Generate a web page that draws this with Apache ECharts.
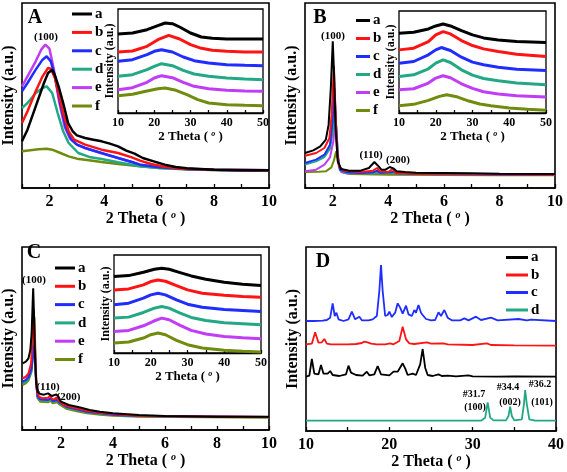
<!DOCTYPE html>
<html><head><meta charset="utf-8">
<script src="https://cdn.jsdelivr.net/npm/echarts@6/dist/echarts.min.js"></script>
<style>html,body{margin:0;padding:0;background:#fff}#c{width:567px;height:472px}</style>
</head><body><div id="c"></div>
<script>
const names6 = ['a','b','c','d','e','f'];
const names4 = ['a','b','c','d'];
const colors = {a:'#000000', b:'#ff1414', c:'#1f2dff', d:'#22a884', e:'#c03cf5', f:'#6f8c0e'};

// Panel A (main)
const A_a = [[1,140],[1.2,175],[1.5,245],[1.8,315],[1.95,345],[2.1,355],[2.2,338],[2.35,300],[2.5,255],[2.68,195],[2.85,170],[3.0,158],[3.3,150],[3.6,145],[3.9,140],[4.2,133],[4.5,125],[4.8,112],[5.1,103],[5.4,90],[5.8,80],[6.2,70],[6.6,63],[7,59],[7.5,57],[8,55],[9,53],[10,53]];
const A_b = [[1,195],[1.2,230],[1.5,290],[1.75,335],[1.95,360],[2.05,358],[2.2,330],[2.35,280],[2.5,225],[2.7,170],[2.9,145],[3.3,130],[3.9,115],[4.5,105],[5.0,92],[5.3,82],[5.7,72],[6.2,64],[6.8,58],[7.5,56],[8,55],[10,53]];
const A_c = [[1,290],[1.2,315],[1.5,355],[1.75,385],[1.9,395],[2.05,380],[2.2,335],[2.4,250],[2.6,180],[2.8,145],[3.0,130],[3.3,120],[3.9,105],[4.5,90],[5.0,78],[5.3,70],[6,62],[7,57],[8,55],[10,53]];
const A_d = [[1,240],[1.2,255],[1.5,285],[1.75,300],[1.9,305],[2.1,285],[2.3,225],[2.5,170],[2.7,135],[3.05,105],[3.5,92],[3.9,87],[4.5,77],[5.3,65],[6,60],[7,56],[8,54],[10,52]];
const A_e = [[1,305],[1.2,335],[1.5,380],[1.7,415],[1.85,430],[2.0,418],[2.15,360],[2.35,260],[2.55,185],[2.75,148],[3.0,130],[3.3,120],[3.9,104],[4.5,90],[5.0,78],[5.3,70],[6,62],[7,57],[8,55],[10,53]];
const A_f = [[1,110],[1.3,113],[1.6,116],[1.9,118],[2.1,115],[2.4,105],[2.7,95],[3.0,88],[3.3,85],[3.9,78],[4.5,72],[5.3,65],[6,60],[7,56],[8,54],[10,52]];

// Panel A inset
const AI_a = [[10,237],[14,240],[18,250],[21,262],[23,270],[25,268],[27,258],[30,240],[33,228],[36,224],[40,222],[45,222],[50,222]];
const AI_b = [[10,183],[14,186],[18,200],[21,220],[24,233],[27,222],[30,205],[33,194],[36,188],[40,185],[45,183],[50,183]];
const AI_c = [[10,155],[14,160],[18,175],[20,185],[22,190],[25,183],[28,168],[31,157],[35,150],[40,145],[45,143],[50,142]];
const AI_d = [[10,110],[14,115],[18,130],[20,140],[22,148],[25,142],[28,128],[31,117],[35,110],[40,105],[45,102],[50,100]];
const AI_e = [[10,70],[14,76],[18,92],[20,105],[22,112],[25,106],[28,92],[31,80],[35,73],[40,68],[45,66],[50,65]];
const AI_f = [[10,52],[14,56],[18,66],[21,73],[23,75],[26,68],[29,55],[32,40],[35,30],[40,25],[45,23],[50,22]];

// Panel B (main)
const B_a = [[1,105],[1.3,113],[1.55,125],[1.75,145],[1.85,190],[1.93,300],[2.0,440],[2.05,330],[2.1,180],[2.18,80],[2.3,57],[2.6,52],[3.0,52],[3.3,60],[3.5,78],[3.56,83],[3.65,65],[3.75,55],[3.9,55],[4.05,63],[4.12,67],[4.2,58],[4.3,50],[4.6,48],[5,46],[6,45],[7,44],[8,43],[10,42]];
const B_b = [[1,97],[1.4,105],[1.7,120],[1.88,150],[1.96,220],[2.04,365],[2.09,250],[2.15,120],[2.22,65],[2.4,52],[3.0,48],[3.45,52],[3.6,60],[3.7,50],[4.0,48],[4.15,57],[4.25,46],[4.6,44],[5,43],[7,42],[10,40]];
const B_c = [[1,75],[1.4,85],[1.7,100],[1.9,130],[1.99,200],[2.06,300],[2.11,200],[2.17,100],[2.25,55],[2.5,47],[3.0,45],[3.45,47],[3.6,52],[3.7,46],[4.1,47],[4.2,50],[4.3,44],[5,42],[10,40]];
const B_d = [[1,70],[1.4,80],[1.7,93],[1.9,118],[2.0,170],[2.08,255],[2.13,170],[2.19,90],[2.27,52],[2.5,45],[3.5,44],[3.6,47],[3.7,44],[4.2,46],[5,42],[10,40]];
const B_e = [[1,50],[1.4,55],[1.7,70],[1.9,92],[2.02,140],[2.1,210],[2.15,150],[2.21,75],[2.3,48],[2.5,44],[3.6,45],[4.2,45],[5,42],[10,40]];
const B_f = [[1,48],[1.5,49],[1.75,50],[1.95,62],[2.05,85],[2.12,110],[2.17,88],[2.25,60],[2.35,47],[2.6,42],[4,40],[6,39],[8,38],[10,38]];

// Panel B inset
const BI_a = [[10,240],[14,243],[18,253],[20,262],[22,268],[24,262],[27,248],[30,235],[33,226],[37,220],[42,215],[50,212]];
const BI_b = [[10,190],[14,195],[18,215],[20,235],[22,245],[24,238],[27,218],[30,203],[33,193],[37,185],[42,177],[50,170]];
const BI_c = [[10,150],[14,155],[18,175],[20,190],[21.5,197],[24,188],[27,168],[30,153],[33,145],[37,138],[42,132],[50,128]];
const BI_d = [[10,110],[14,115],[18,133],[20,150],[22,160],[24,152],[27,130],[30,114],[33,104],[37,97],[42,90],[50,85]];
const BI_e = [[10,70],[14,73],[18,90],[20,105],[22,112],[24,106],[27,88],[30,74],[33,64],[37,57],[42,52],[50,48]];
const BI_f = [[10,22],[14,26],[18,38],[21,50],[23,55],[26,48],[29,36],[32,27],[35,22],[40,15],[45,11],[50,8]];

// Panel C (main)
const C_a = [[0.52,200],[0.65,205],[0.75,215],[0.82,240],[0.87,290],[0.91,380],[0.93,425],[0.96,350],[1.0,220],[1.05,140],[1.1,115],[1.2,108],[1.35,106],[1.5,110],[1.57,113],[1.65,102],[1.72,100],[1.82,107],[1.9,100],[2.0,85],[2.3,75],[2.7,68],[3.1,60],[3.5,55],[4.0,50],[5,45],[6,42],[8,40],[10,40]];
const C_b = [[0.52,155],[0.65,160],[0.75,170],[0.85,200],[0.91,280],[0.95,360],[0.99,280],[1.03,170],[1.08,115],[1.15,100],[1.3,95],[1.5,97],[1.58,103],[1.66,92],[1.75,93],[1.83,98],[1.92,88],[2.1,75],[2.5,67],[3,58],[3.5,52],[4,48],[5,43],[6,41],[10,39]];
const C_c = [[0.52,145],[0.65,150],[0.75,158],[0.87,185],[0.93,230],[0.97,255],[1.0,210],[1.04,140],[1.1,100],[1.2,92],[1.5,90],[1.6,95],[1.68,87],[1.85,90],[1.95,82],[2.2,70],[2.6,62],[3,55],[3.5,50],[4,46],[5,42],[10,39]];
const C_d = [[0.52,140],[0.65,145],[0.75,152],[0.87,180],[0.93,240],[0.97,285],[1.0,230],[1.04,150],[1.1,98],[1.2,90],[1.5,88],[1.6,92],[1.68,85],[1.85,88],[1.95,80],[2.2,68],[2.6,60],[3,54],[3.5,49],[4,45],[5,41],[10,38]];
const C_e = [[0.52,155],[0.65,158],[0.75,165],[0.87,195],[0.93,260],[0.97,305],[1.0,240],[1.04,150],[1.1,100],[1.2,92],[1.5,90],[1.6,96],[1.68,87],[1.85,90],[1.95,82],[2.2,70],[2.6,61],[3,55],[3.5,50],[4,46],[5,42],[10,39]];
const C_f = [[0.52,135],[0.65,140],[0.75,148],[0.87,175],[0.93,260],[0.98,340],[1.01,250],[1.05,150],[1.1,95],[1.2,85],[1.5,83],[1.6,88],[1.68,80],[1.85,83],[1.95,76],[2.2,64],[2.6,56],[3,50],[3.5,46],[4,43],[5,40],[10,37]];

// Panel C inset
const CI_a = [[10,230],[14,233],[18,243],[21,252],[23,255],[25,252],[28,242],[31,232],[35,222],[40,213],[45,207],[50,203]];
const CI_b = [[10,190],[14,193],[18,205],[20,215],[22,220],[24,216],[27,203],[30,190],[34,180],[40,174],[45,170],[50,168]];
const CI_c = [[10,145],[14,150],[18,165],[20,175],[22,180],[24,175],[27,160],[30,147],[34,138],[40,131],[45,128],[50,125]];
const CI_d = [[10,105],[14,108],[18,122],[21,135],[23,140],[25,135],[28,120],[31,107],[35,98],[40,91],[45,88],[50,85]];
const CI_e = [[10,65],[14,68],[18,82],[21,97],[23,105],[25,100],[28,83],[31,68],[35,57],[40,50],[45,46],[50,43]];
const CI_f = [[10,30],[14,33],[18,45],[20,55],[22,60],[24,55],[27,38],[30,25],[34,15],[40,8],[45,5],[50,3]];

// Panel D
const D_a = [[10,163],[10.4,166],[10.7,216],[11.0,172],[11.5,170],[11.8,198],[12.1,172],[12.6,172],[12.9,180],[13.2,168],[14,165],[14.8,170],[15.1,196],[15.4,175],[15.6,178],[16,168],[16.8,166],[17.3,178],[17.6,167],[18.2,170],[18.6,195],[19.0,170],[20.0,167],[20.5,178],[20.7,183],[21.0,178],[21.6,203],[21.9,188],[22.2,168],[22.8,172],[23.2,168],[23.7,200],[24.0,246],[24.3,190],[24.6,168],[25.2,165],[25.9,170],[26.3,165],[27,166],[28,164],[29.5,167],[30,164],[33,163],[35,164],[40,163]];
const D_b = [[10,260],[10.7,262],[11.1,296],[11.5,265],[11.9,266],[12.2,276],[12.5,262],[13,260],[14,260],[15,260],[16,261],[16.7,264],[17.0,268],[17.4,266],[17.8,262],[18.5,260],[19.5,260],[20.1,263],[20.5,260],[21.2,270],[21.6,313],[22.0,275],[22.4,263],[23,261],[24.5,266],[25,262],[26.5,263],[27,260],[30,258],[31.7,263],[32.2,258],[35,257],[40,256]];
const D_c = [[10,330],[11,330],[12,331],[12.5,333],[12.9,340],[13.2,383],[13.45,345],[13.65,355],[13.9,335],[14.5,330],[15.1,335],[15.5,358],[15.9,335],[16.4,343],[16.7,332],[17.5,332],[18,335],[18.5,345],[18.8,420],[19.0,498],[19.2,420],[19.5,345],[19.8,348],[20.0,358],[20.3,342],[20.7,355],[21.0,383],[21.3,370],[21.6,352],[22.0,376],[22.3,350],[22.7,345],[23.0,363],[23.2,355],[23.5,378],[23.8,355],[24.0,348],[24.4,336],[25.0,332],[25.5,333],[25.9,356],[26.2,345],[26.6,363],[27.0,340],[27.5,332],[28.5,332],[29.0,338],[29.5,332],[30.4,343],[31,333],[32.2,340],[33,332],[35.5,336],[36.5,332],[37,334],[40,330]];
const D_d = [[10,31],[31,31],[31.5,40],[31.8,86],[32.1,40],[32.5,32],[34,32],[34.3,45],[34.5,73],[34.7,45],[35,32],[35.9,35],[36.15,80],[36.3,123],[36.5,80],[36.8,35],[37.5,31],[40,31]];

const FONT = '"Liberation Serif", "Times New Roman", serif';
const chart = echarts.init(document.getElementById('c'), null, {renderer:'canvas'});

const grids = [
  {left:20, top:3, width:249, height:185},      // 0 A
  {left:118, top:9, width:145, height:104},     // 1 A inset
  {left:305, top:3, width:250, height:185},     // 2 B
  {left:399, top:11, width:147, height:102},    // 3 B inset
  {left:20, top:247, width:249, height:183},    // 4 C
  {left:114, top:255, width:147, height:98},    // 5 C inset
  {left:306, top:247, width:251, height:184}    // 6 D
].map((g,i)=>Object.assign({show:true, borderColor:'#000', borderWidth:(i===1||i===3||i===5)?1.3:1.6, backgroundColor:'#fff', containLabel:false}, g));

function xAx(gi, min, max, opts) {
  const inset = opts.inset;
  const fs = inset ? 12 : 16;
  const ax = {
    type:'value', gridIndex:gi, min:min, max:max,
    axisLine:{show:true, onZero:false, lineStyle:{color:'#000', width: inset?1.3:1.6}},
    axisTick:{show:true, inside:true, length: inset?3:4, lineStyle:{color:'#000', width:1.3}},
    splitLine:{show:false},
    axisLabel:{show:true, margin: inset?4:6, fontSize:fs, fontWeight:'bold', fontFamily:FONT, color:'#000',
      formatter: v => (Math.abs(v % opts.step) < 1e-6 && v >= opts.first) ? String(v) : ''},
    name:'2 Theta ( {o|o} )', nameLocation:'middle', nameGap: inset?15:22,
    nameTextStyle:{fontSize: inset?13:16, fontWeight:'bold', fontFamily:FONT, color:'#000',
      rich:{o:{fontSize: inset?8:10, fontStyle:'italic', fontWeight:'bold', fontFamily:FONT, color:'#000', verticalAlign:'top'}}}
  };
  if (opts.interval) ax.interval = opts.interval; else ax.splitNumber = opts.splitNumber;
  return ax;
}
function yAx(gi, max, inset) {
  return {
    type:'value', gridIndex:gi, min:0, max:max,
    axisLine:{show:false}, axisTick:{show:false}, axisLabel:{show:false}, splitLine:{show:false},
    name:'Intensity (a.u.)', nameLocation:'middle', nameRotate:90, nameGap: inset?2:5,
    nameTextStyle:{fontSize: inset?12:16, fontWeight:'bold', fontFamily:FONT, color:'#000'}
  };
}

const xAxes = [
  xAx(0, 1, 10, {interval:1, step:2, first:2}),
  xAx(1, 10, 50, {interval:5, step:10, first:10, inset:true}),
  xAx(2, 1, 10, {interval:1, step:2, first:2}),
  xAx(3, 10, 50, {interval:5, step:10, first:10, inset:true}),
  xAx(4, 0.5, 10, {splitNumber:10, step:2, first:2}),
  xAx(5, 10, 50, {interval:5, step:10, first:10, inset:true}),
  xAx(6, 10, 40, {interval:5, step:10, first:10})
];
const yAxes = [yAx(0,555), yAx(1,312,true), yAx(2,555), yAx(3,307,true), yAx(4,549), yAx(5,295,true), yAx(6,552)];

const panelData = [
  [A_a,A_b,A_c,A_d,A_e,A_f],
  [AI_a,AI_b,AI_c,AI_d,AI_e,AI_f],
  [B_a,B_b,B_c,B_d,B_e,B_f],
  [BI_a,BI_b,BI_c,BI_d,BI_e,BI_f],
  [C_a,C_b,C_c,C_d,C_e,C_f],
  [CI_a,CI_b,CI_c,CI_d,CI_e,CI_f],
  [D_a,D_b,D_c,D_d]
];
const widths = [2.5, 3, 2, 3, 2, 3, 1.8];
const series = [];
panelData.forEach((arrs, gi) => {
  arrs.forEach((arr, k) => {
    const nm = names6[k];
    series.push({
      type:'line', name:nm, xAxisIndex:gi, yAxisIndex:gi, data:arr,
      showSymbol:false, symbol:'none', smooth:false, color:colors[nm], z: 3 + (arrs.length-k),
      lineStyle:{color:colors[nm], width: widths[gi]},
      animation:false, silent:true
    });
  });
});

function leg(data, left, top, w, gap) {
  return {data:data, left:left, top:top, orient:'vertical', icon:'rect', itemWidth:w, itemHeight:3, itemGap:gap,
    padding:0, selectedMode:false,
    textStyle:{fontSize:15, fontWeight:'bold', fontFamily:FONT, color:'#000', padding:[0,0,0,-2], lineHeight:16}};
}
function t(x, y, s, fs) {
  return {type:'text', x:x, y:y, style:{text:s, font:'bold '+fs+'px '+FONT, fill:'#000', align:'center', verticalAlign:'middle'}};
}

chart.setOption({
  animation:false,
  grid: grids, xAxis: xAxes, yAxis: yAxes, series: series,
  legend: [
    leg(names6, 72, 6, 20, 2.4),
    leg(names6, 356, 12.5, 14, 2),
    leg(names6, 55, 260, 20, 2.3),
    leg(names4, 506, 249.5, 22, 1.5)
  ],
  graphic: [
    t(35, 17.5, 'A', 20), t(320, 17.5, 'B', 20), t(34, 253, 'C', 20), t(323, 261.5, 'D', 20),
    t(46, 37, '(100)', 11), t(333, 36.5, '(100)', 11), t(371, 155, '(110)', 11), t(398, 160, '(200)', 11),
    t(34, 280.5, '(100)', 11), t(48, 387, '(110)', 11), t(68.5, 397, '(200)', 11),
    t(474, 394, '#31.7', 10), t(475, 407, '(100)', 10),
    t(508, 387, '#34.4', 10), t(510, 402, '(002)', 10),
    t(540, 384, '#36.2', 10), t(542, 402, '(101)', 10)
  ]
});
</script></body></html>
